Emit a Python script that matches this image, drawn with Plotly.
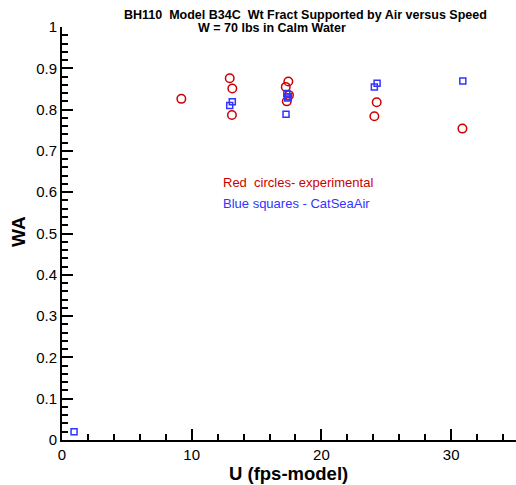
import plotly.graph_objects as go

exp_u = [9.2, 12.93, 13.13, 13.1, 17.45, 17.25, 17.5, 17.33, 24.26, 24.08, 30.87]
exp_wa = [0.826, 0.876, 0.851, 0.787, 0.868, 0.855, 0.835, 0.820, 0.818, 0.784, 0.754]

cat_u = [0.93, 13.13, 12.93, 17.27, 17.33, 17.45, 17.4, 24.29, 24.08, 30.9]
cat_wa = [0.02, 0.819, 0.810, 0.789, 0.839, 0.831, 0.828, 0.864, 0.855, 0.869]

title1 = "BH110  Model B34C  Wt Fract Supported by Air versus Speed"
title2 = "W = 70 lbs in Calm Water"
note_red = "Red  circles- experimental"
note_blue = "Blue squares - CatSeaAir"
x_title = "U (fps-model)"
y_title = "WA"

RED = "rgb(204,0,0)"
BLUE = "rgb(51,51,255)"
FONT = "Liberation Sans, Arial, sans-serif"

fig = go.Figure()
fig.add_trace(go.Scatter(x=exp_u, y=exp_wa, mode="markers",
                         marker=dict(symbol="circle-open", size=8.5, color=RED,
                                     line=dict(width=1.5, color=RED)),
                         showlegend=False, cliponaxis=False))
fig.add_trace(go.Scatter(x=cat_u, y=cat_wa, mode="markers",
                         marker=dict(symbol="square-open", size=6, color=BLUE,
                                     line=dict(width=1.5, color=BLUE)),
                         showlegend=False, cliponaxis=False))

axis_common = dict(showgrid=False, zeroline=False, showline=True, linecolor="black",
                   linewidth=2, ticks="inside", ticklen=11, tickwidth=2, tickcolor="black",
                   tickfont=dict(family=FONT, size=15, color="black"))

fig.update_xaxes(range=[0, 35], dtick=10, tick0=0,
                 minor=dict(dtick=2, ticks="inside", ticklen=6, tickwidth=1.5, tickcolor="black"),
                 **axis_common)
fig.update_yaxes(range=[0, 1], dtick=0.1, tick0=0,
                 minor=dict(dtick=0.02, ticks="inside", ticklen=6, tickwidth=1.5, tickcolor="black"),
                 **axis_common)

W, H = 454, 413
def px(x):
    return (x - 62) / W
def py(y):
    return (440 - y) / H

fig.add_annotation(text="<b>" + title1 + "</b>", xref="paper", yref="paper",
                   x=px(305), y=py(15), showarrow=False,
                   font=dict(family=FONT, size=12.5, color="black"), xanchor="center", yanchor="middle")
fig.add_annotation(text="<b>" + title2 + "</b>", xref="paper", yref="paper",
                   x=px(272), y=py(28), showarrow=False,
                   font=dict(family=FONT, size=12.5, color="black"), xanchor="center", yanchor="middle")
fig.add_annotation(text=note_red, xref="paper", yref="paper",
                   x=px(221), y=py(182), showarrow=False,
                   font=dict(family=FONT, size=13, color=RED), xanchor="left", yanchor="middle")
fig.add_annotation(text=note_blue, xref="paper", yref="paper",
                   x=px(221), y=py(203), showarrow=False,
                   font=dict(family=FONT, size=13, color=BLUE), xanchor="left", yanchor="middle")
fig.add_annotation(text="<b>" + x_title + "</b>", xref="paper", yref="paper",
                   x=px(288), y=py(473), showarrow=False,
                   font=dict(family=FONT, size=18.5, color="black"), xanchor="center", yanchor="middle")
fig.add_annotation(text="<b>" + y_title + "</b>", xref="paper", yref="paper",
                   x=px(19), y=py(232), showarrow=False, textangle=-90,
                   font=dict(family=FONT, size=19, color="black"), xanchor="center", yanchor="middle")

fig.update_layout(width=516, height=485, margin=dict(l=62, r=0, t=27, b=45),
                  plot_bgcolor="white", paper_bgcolor="white", showlegend=False)

fig.write_html("out.html")
